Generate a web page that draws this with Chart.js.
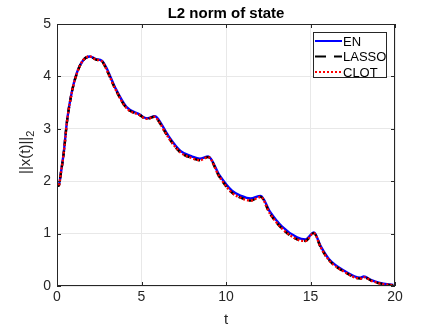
<!DOCTYPE html>
<html>
<head>
<meta charset="utf-8">
<script src="https://cdn.jsdelivr.net/npm/chart.js@4"></script>
<style>
  html, body { margin: 0; padding: 0; background: #fff; }
  #wrap { width: 436px; height: 327px; }
</style>
</head>
<body>
<div id="wrap"><canvas id="chart" width="436" height="327"></canvas></div>
<script>
let tValues = [0, 0.1, 0.25, 0.4, 0.6, 0.9, 1.2, 1.55, 1.95, 2.3, 2.65, 2.9, 3.45, 4.1, 4.9, 5.3, 5.8, 6.0, 6.6, 7.3, 8.0, 8.45, 8.95, 9.6, 10.35, 10.9, 11.45, 12.05, 12.6, 13.3, 14.2, 14.7, 15.2, 15.6, 16.1, 17.0, 17.95, 18.15, 18.6, 19.1, 19.9];
let enValues = [1.96, 1.92, 2.2, 2.55, 3.17, 3.74, 4.09, 4.31, 4.38, 4.33, 4.30, 4.18, 3.78, 3.42, 3.27, 3.2, 3.24, 3.18, 2.86, 2.58, 2.47, 2.43, 2.47, 2.12, 1.82, 1.72, 1.67, 1.72, 1.42, 1.14, 0.93, 0.89, 1.02, 0.76, 0.51, 0.29, 0.16, 0.18, 0.11, 0.06, 0.02];
let lassoValues = [1.96, 1.91, 2.2, 2.54, 3.16, 3.73, 4.08, 4.31, 4.38, 4.32, 4.29, 4.15, 3.76, 3.4, 3.26, 3.19, 3.23, 3.15, 2.83, 2.55, 2.44, 2.40, 2.46, 2.09, 1.78, 1.68, 1.63, 1.70, 1.38, 1.10, 0.89, 0.86, 1.01, 0.74, 0.49, 0.27, 0.14, 0.17, 0.10, 0.05, 0.01];
let clotValues = [1.96, 1.91, 2.2, 2.54, 3.16, 3.73, 4.08, 4.31, 4.38, 4.32, 4.29, 4.15, 3.76, 3.4, 3.26, 3.19, 3.23, 3.15, 2.83, 2.55, 2.44, 2.40, 2.46, 2.09, 1.78, 1.68, 1.63, 1.70, 1.38, 1.10, 0.89, 0.86, 1.01, 0.74, 0.49, 0.27, 0.14, 0.17, 0.10, 0.05, 0.01];
let seriesNames = ['EN', 'LASSO', 'CLOT'];
let xTicks = [0, 5, 10, 15, 20];
let yTicks = [0, 1, 2, 3, 4, 5];
let chartTitle = 'L2 norm of state';
let xTitle = 't';
let yTitle = '||x(t)||';
let yTitleSub = '2';

const fontFamily = '"Liberation Sans", Arial, sans-serif';
const textColor = '#262626';
const axisColor = '#262626';

function toPoints(values) {
    return values.map((v, i) => ({ x: tValues[i], y: v }));
}

const frame = {
    id: 'matlab_frame',
    afterDraw: (chart) => {
        const ctx = chart.ctx;
        const a = chart.chartArea;
        const xs = chart.scales.x;
        const ys = chart.scales.y;
        ctx.save();
        ctx.strokeStyle = axisColor;
        ctx.lineWidth = 1;
        ctx.strokeRect(a.left + 0.5, a.top + 0.5, a.right - a.left - 1, a.bottom - a.top - 1);
        // inward ticks
        ctx.beginPath();
        xTicks.forEach(t => {
            let px = Math.round(xs.getPixelForValue(t)) + 0.5;
            ctx.moveTo(px, a.bottom); ctx.lineTo(px, a.bottom - 4);
            ctx.moveTo(px, a.top); ctx.lineTo(px, a.top + 4);
        });
        yTicks.forEach(t => {
            let py = Math.round(ys.getPixelForValue(t)) + 0.5;
            ctx.moveTo(a.left, py); ctx.lineTo(a.left + 4, py);
            ctx.moveTo(a.right, py); ctx.lineTo(a.right - 4, py);
        });
        ctx.stroke();

        // title
        ctx.fillStyle = '#000';
        ctx.font = 'bold 15px ' + fontFamily;
        ctx.textAlign = 'center';
        ctx.textBaseline = 'alphabetic';
        ctx.fillText(chartTitle, (a.left + a.right) / 2, 18);

        // axis titles
        ctx.fillStyle = textColor;
        ctx.font = '15px ' + fontFamily;
        ctx.fillText(xTitle, (a.left + a.right) / 2, 324);
        ctx.save();
        ctx.translate(30, 170);
        ctx.rotate(-Math.PI / 2);
        ctx.textAlign = 'left';
        ctx.fillText(yTitle, -4, 0);
        let w = ctx.measureText(yTitle).width;
        ctx.font = '11px ' + fontFamily;
        ctx.fillText(yTitleSub, -4 + w, 4);
        ctx.restore();

        // legend
        const lx = 313, ly = 32, lw = 74, lh = 46;
        ctx.fillStyle = '#fff';
        ctx.fillRect(lx, ly, lw, lh);
        ctx.strokeStyle = '#262626';
        ctx.lineWidth = 1;
        ctx.strokeRect(lx + 0.5, ly + 0.5, lw - 1, lh - 1);
        const styles = [
            { color: '#0000ff', dash: [] },
            { color: '#000000', dash: [11, 8] },
            { color: '#ff0000', dash: [2, 2] }
        ];
        ctx.font = '13px ' + fontFamily;
        ctx.textAlign = 'left';
        ctx.textBaseline = 'middle';
        seriesNames.forEach((name, i) => {
            let y = ly + 9 + i * 15.5;
            ctx.strokeStyle = styles[i].color;
            ctx.lineWidth = 2;
            ctx.setLineDash(styles[i].dash);
            ctx.beginPath();
            ctx.moveTo(lx + 2, y);
            ctx.lineTo(lx + 29, y);
            ctx.stroke();
            ctx.setLineDash([]);
            ctx.fillStyle = '#000';
            ctx.fillText(name, lx + 30, y + 1);
        });
        ctx.restore();
    }
};

const config = {
    type: 'line',
    data: {
        datasets: [
            {
                label: seriesNames[0],
                data: toPoints(enValues),
                borderColor: '#0000ff',
                borderWidth: 2.4,
                pointRadius: 0,
                order: 3,
                cubicInterpolationMode: 'monotone'
            },
            {
                label: seriesNames[1],
                data: toPoints(lassoValues),
                borderColor: '#000000',
                borderWidth: 2.4,
                borderDash: [6, 5],
                pointRadius: 0,
                order: 2,
                cubicInterpolationMode: 'monotone'
            },
            {
                label: seriesNames[2],
                data: toPoints(clotValues),
                borderColor: '#ff0000',
                borderWidth: 2.4,
                borderDash: [2, 2],
                pointRadius: 0,
                order: 1,
                cubicInterpolationMode: 'monotone'
            }
        ]
    },
    options: {
        responsive: false,
        animation: false,
        devicePixelRatio: 1,
        layout: {
            padding: { top: 24, right: 41, left: 0, bottom: 0 }
        },
        plugins: {
            legend: { display: false },
            tooltip: { enabled: false }
        },
        scales: {
            x: {
                type: 'linear',
                min: 0,
                max: 20,
                afterBuildTicks: (scale) => { scale.ticks = xTicks.map(v => ({ value: v })); },
                afterFit: (scale) => { scale.height = 41; },
                border: { display: false },
                grid: { color: '#e8e8e8', drawTicks: false },
                ticks: {
                    color: textColor,
                    padding: 3,
                    font: { family: fontFamily, size: 14 }
                }
            },
            y: {
                min: 0,
                max: 5,
                afterBuildTicks: (scale) => { scale.ticks = yTicks.map(v => ({ value: v })); },
                afterFit: (scale) => { scale.width = 57; },
                border: { display: false },
                grid: { color: '#e8e8e8', drawTicks: false },
                ticks: {
                    color: textColor,
                    padding: 6,
                    font: { family: fontFamily, size: 14 }
                }
            }
        }
    },
    plugins: [frame]
};

const chart = new Chart(document.getElementById('chart'), config);
</script>
</body>
</html>
